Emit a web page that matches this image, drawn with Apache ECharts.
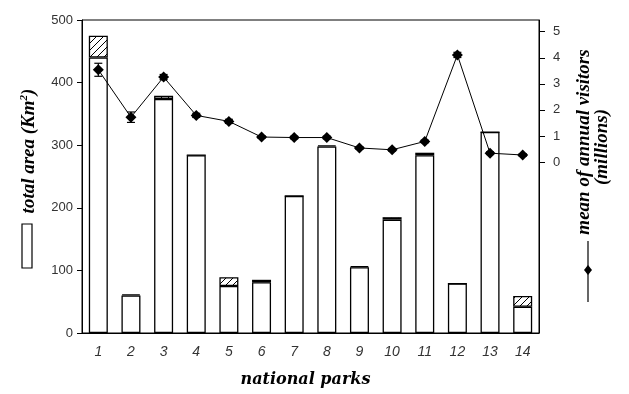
<!DOCTYPE html>
<html>
<head>
<meta charset="utf-8">
<script src="https://cdn.jsdelivr.net/npm/echarts@6/dist/echarts.min.js"></script>
<style>html,body{margin:0;padding:0;background:#fff;}#c{width:629px;height:394px;}</style>
</head>
<body>
<div id="c"></div>
<script>
var parks = ['1','2','3','4','5','6','7','8','9','10','11','12','13','14'];
var areaBase = [440, 60, 374, 284, 75, 81, 219, 298, 105, 181, 284, 79, 321, 42];
var areaExtra = [35, 2, 5, 0, 14, 4, 0, 2, 2, 4, 4, 0, 0, 17];
var visitors = [3.54, 1.72, 3.26, 1.79, 1.56, 0.96, 0.94, 0.94, 0.54, 0.47, 0.79, 4.11, 0.34, 0.27];
var visitorsErr = [0.25, 0.2, 0.1, 0.08, 0.08, 0.05, 0.05, 0.05, 0.05, 0.05, 0.05, 0.1, 0.05, 0.05];
var leftTicks = [0, 100, 200, 300, 400, 500];
var rightTicks = [0, 1, 2, 3, 4, 5];

function hatch() {
  var c = document.createElement('canvas');
  c.width = 7; c.height = 7;
  var g = c.getContext('2d');
  g.fillStyle = '#fff'; g.fillRect(0, 0, 7, 7);
  g.strokeStyle = '#000'; g.lineWidth = 1;
  g.beginPath();
  g.moveTo(0, 7); g.lineTo(7, 0);
  g.moveTo(-1, 1); g.lineTo(1, -1);
  g.moveTo(6, 8); g.lineTo(8, 6);
  g.stroke();
  return c;
}

var chart = echarts.init(document.getElementById('c'));
var serifFont = '"Liberation Serif", "Times New Roman", serif';
var wideSerif = '"DejaVu Serif", serif';
var sansFont = '"Liberation Sans", Arial, sans-serif';

chart.setOption({
  animation: false,
  backgroundColor: '#fff',
  grid: { left: 82, top: 20, right: 90, bottom: 61, show: true, borderColor: '#000', borderWidth: 1, backgroundColor: 'transparent' },
  xAxis: {
    type: 'category', data: parks, boundaryGap: true,
    axisLine: { lineStyle: { color: '#000', width: 1 } },
    axisTick: { alignWithLabel: true, length: 4, lineStyle: { color: '#000' } },
    axisLabel: { fontFamily: sansFont, fontStyle: 'italic', fontSize: 14, color: '#333', margin: 12 },
    name: 'national parks', nameLocation: 'middle', nameGap: 39,
    nameTextStyle: { fontFamily: wideSerif, fontStyle: 'italic', fontWeight: 'bold', fontSize: 16, color: '#000', padding: [0, 10, 0, 0] }
  },
  yAxis: [
    {
      type: 'value', min: 0, max: 500, interval: 100,
      axisLine: { show: true, lineStyle: { color: '#000' } },
      axisTick: { show: true, length: 5, lineStyle: { color: '#000' } },
      axisLabel: { fontFamily: sansFont, fontSize: 13, color: '#333', margin: 9,
        customValues: leftTicks },
      splitLine: { show: false }
    },
    {
      type: 'value', min: -6.56, max: 5.45, position: 'right',
      axisLine: { show: true, lineStyle: { color: '#000' } },
      axisTick: { show: true, length: 6, lineStyle: { color: '#000' }, customValues: rightTicks },
      axisLabel: { fontFamily: sansFont, fontSize: 13, color: '#333', margin: 14, customValues: rightTicks },
      splitLine: { show: false }
    }
  ],
  series: [
    {
      name: 'area', type: 'bar', stack: 'a', data: areaBase, barWidth: 19,
      itemStyle: { color: '#fff', borderColor: '#000', borderWidth: 1.3 }
    },
    {
      name: 'area extra', type: 'bar', stack: 'a', data: areaExtra, barWidth: 19,
      itemStyle: { color: { image: hatch(), repeat: 'repeat' }, borderColor: '#000', borderWidth: 1.3 }
    },
    {
      name: 'visitors', type: 'line', yAxisIndex: 1, data: visitors,
      symbol: 'diamond', symbolSize: 11, z: 5,
      lineStyle: { color: '#000', width: 1 }, itemStyle: { color: '#000' }
    },
    {
      name: 'err', type: 'custom', yAxisIndex: 1, z: 4,
      data: visitors.map(function (v, i) { return [i, v - visitorsErr[i], v + visitorsErr[i]]; }),
      renderItem: function (params, api) {
        var lo = api.coord([api.value(0), api.value(1)]);
        var hi = api.coord([api.value(0), api.value(2)]);
        var st = { stroke: '#000', lineWidth: 1.2 };
        return { type: 'group', children: [
          { type: 'line', shape: { x1: lo[0], y1: lo[1], x2: hi[0], y2: hi[1] }, style: st },
          { type: 'line', shape: { x1: lo[0] - 4, y1: lo[1], x2: lo[0] + 4, y2: lo[1] }, style: st },
          { type: 'line', shape: { x1: hi[0] - 4, y1: hi[1], x2: hi[0] + 4, y2: hi[1] }, style: st }
        ] };
      }
    }
  ],
  graphic: [
    { type: 'text', x: 29, y: 151, rotation: Math.PI / 2,
      style: { text: 'total area (Km{s|2})', align: 'center', verticalAlign: 'middle',
        fontFamily: serifFont, fontStyle: 'italic', fontWeight: 'bold', fontSize: 19, fill: '#000',
        rich: { s: { fontSize: 11, fontFamily: serifFont, fontStyle: 'italic', fontWeight: 'bold', verticalAlign: 'top', padding: [0, 0, 10, 0] } } } },
    { type: 'rect', shape: { x: 22, y: 224, width: 10, height: 44 }, style: { fill: '#fff', stroke: '#000', lineWidth: 1.2 } },
    { type: 'text', x: 584, y: 142, rotation: Math.PI / 2,
      style: { text: 'mean of annual visitors', align: 'center', verticalAlign: 'middle',
        fontFamily: serifFont, fontStyle: 'italic', fontWeight: 'bold', fontSize: 19, fill: '#000' } },
    { type: 'text', x: 602, y: 147, rotation: Math.PI / 2,
      style: { text: '(millions)', align: 'center', verticalAlign: 'middle',
        fontFamily: serifFont, fontStyle: 'italic', fontWeight: 'bold', fontSize: 19, fill: '#000' } },
    { type: 'line', shape: { x1: 588, y1: 241, x2: 588, y2: 302 }, style: { stroke: '#000', lineWidth: 1.2 } },
    { type: 'polygon', shape: { points: [[588, 265], [592, 270], [588, 275], [584, 270]] }, style: { fill: '#000' } }
  ]
});
</script>
</body>
</html>
